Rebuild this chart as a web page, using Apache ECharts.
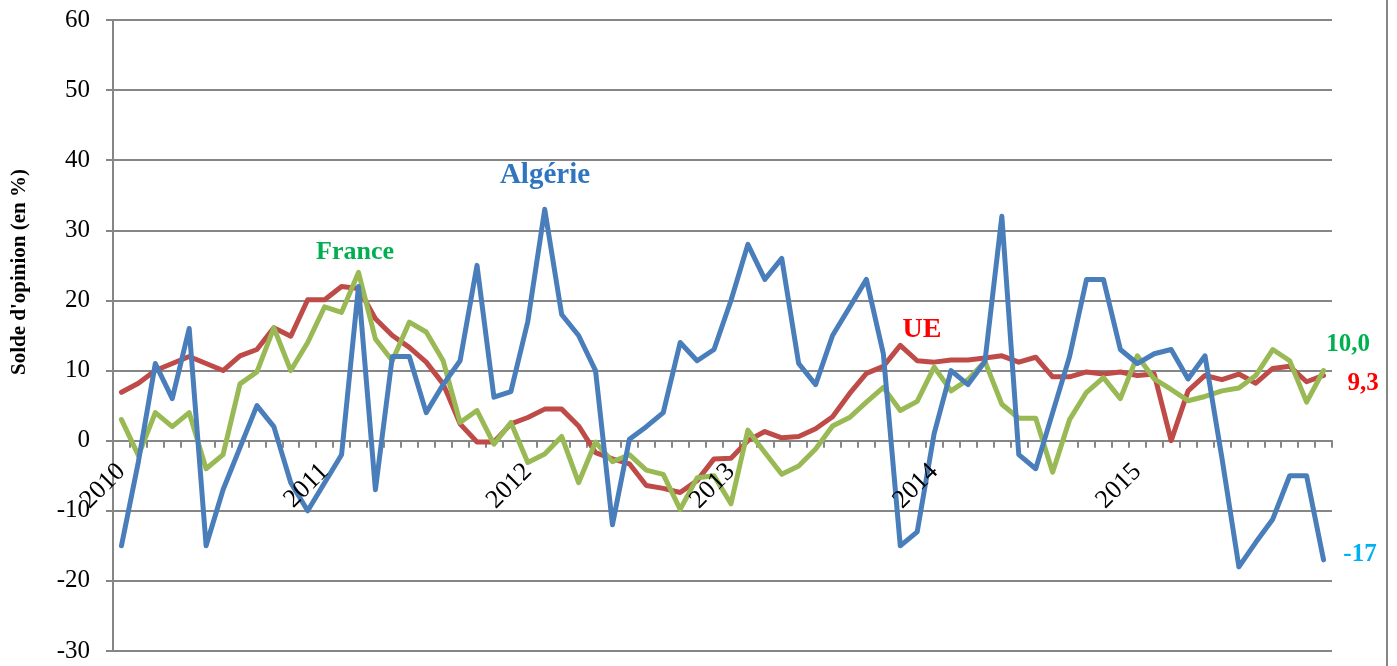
<!DOCTYPE html>
<html>
<head>
<meta charset="utf-8">
<script src="https://cdn.jsdelivr.net/npm/echarts@6/dist/echarts.min.js"></script>
<style>
  html, body { margin: 0; padding: 0; background: #fff; }
  #chart { width: 1397px; height: 666px; }
</style>
</head>
<body>
<div id="chart"></div>
<script>
// Soldes d'opinion mensuels, janv. 2010 - déc. 2015

const years = ['2010', '2011', '2012', '2013', '2014', '2015'];
const monthNums = ['01', '02', '03', '04', '05', '06', '07', '08', '09', '10', '11', '12'];
const months = [];
years.forEach(y => monthNums.forEach(m => months.push(y + '-' + m)));

const yTicks = { min: -30, max: 60, step: 10 };

// Algérie
const algerie = [
  -15, -3, 11, 6, 16, -15, -7, -1, 5, 2, -6, -10,
  -6, -2, 22, -7, 12, 12, 4, 8, 11.4, 25, 6.2, 7,
  17, 33, 18, 15, 10, -12, 0.2, 2, 4, 14, 11.4, 13,
  20, 28, 23, 26, 11, 8, 15, 19, 23, 12.4, -15, -13,
  1, 10, 8, 11.3, 32, -2, -4, 4, 12, 23, 23, 13,
  11, 12.4, 13, 8.8, 12.1, -2.5, -18, -14.5, -11.2, -5, -5, -17
];

// UE
const ue = [
  6.9, 8.2, 10, 11, 12, 11, 10, 12.1, 13, 16.1, 14.9, 20.1,
  20.1, 22, 21.7, 17.4, 15, 13.3, 11.2, 8.1, 2.4, -0.2, -0.2, 2.4,
  3.3, 4.5, 4.5, 2.1, -1.7, -2.6, -3.3, -6.4, -6.8, -7.4, -5.7, -2.6,
  -2.5, 0, 1.3, 0.4, 0.6, 1.7, 3.4, 6.7, 9.6, 10.6, 13.6, 11.4,
  11.2, 11.5, 11.5, 11.8, 12.1, 11.2, 11.9, 9.1, 9.1, 9.8, 9.5, 9.8,
  9.3, 9.5, 0, 7.1, 9.3, 8.7, 9.5, 8.2, 10.3, 10.6, 8.4, 9.3
];

// France
const france = [
  3, -2.1, 4, 2, 4, -4, -2, 8.1, 9.8, 16.1, 10, 14,
  19.1, 18.3, 24, 14.5, 11.4, 16.9, 15.5, 11.4, 2.6, 4.3, -0.5, 2.6,
  -3.1, -1.9, 0.6, -6, -0.2, -3, -2, -4.2, -4.8, -9.8, -5.3, -5,
  -9, 1.5, -1.7, -4.8, -3.6, -1.2, 2.1, 3.3, 5.5, 7.6, 4.3, 5.6,
  10.5, 7.1, 8.7, 11.3, 5.2, 3.2, 3.2, -4.5, 3, 6.9, 9, 6,
  12.1, 8.8, 7.3, 5.7, 6.3, 7.1, 7.5, 9.3, 13, 11.4, 5.5, 10
];

const GRID = '#868686';
const FONT = '"Liberation Serif", "Times New Roman", serif';

// zone de tracé
const PLOT = { left: 113, right: 65, top: 20, bottom: 15 };
const plotH = 666 - PLOT.top - PLOT.bottom;
// décalage de l'axe des abscisses pour le placer sur la valeur 0
const zeroOffset = -plotH * (0 - yTicks.min) / (yTicks.max - yTicks.min);

const chart = echarts.init(document.getElementById('chart'), null, { renderer: 'canvas' });

function lineSeries(name, data, color, z) {
  return {
    name: name, type: 'line', data: data, z: z, xAxisIndex: 0,
    symbol: 'none', smooth: false, animation: false,
    lineStyle: { color: color, width: 5, cap: 'round', join: 'round' }
  };
}

chart.setOption({
  backgroundColor: '#fff',
  animation: false,
  grid: { left: PLOT.left, right: PLOT.right, top: PLOT.top, bottom: PLOT.bottom, containLabel: false, outerBoundsMode: 'none' },
  xAxis: [
    {
      // ligne du zéro et graduations (sous les courbes)
      type: 'category',
      data: months,
      boundaryGap: true,
      offset: zeroOffset,
      axisLine: { onZero: false, lineStyle: { color: GRID, width: 2 } },
      axisTick: { show: true, interval: 0, length: 7, lineStyle: { color: GRID, width: 2 } },
      axisLabel: { show: false },
      splitLine: { show: false }
    },
    {
      // étiquettes des années (au-dessus des courbes)
      type: 'category',
      data: months,
      boundaryGap: true,
      position: 'bottom',
      offset: zeroOffset,
      z: 10,
      axisLine: { show: false, onZero: false },
      axisTick: { show: false },
      axisLabel: {
        interval: 11, rotate: 45, margin: 27,
        fontFamily: FONT, fontSize: 26, color: '#000',
        formatter: v => v.slice(0, 4)
      },
      splitLine: { show: false }
    }
  ],
  yAxis: {
    type: 'value',
    min: yTicks.min, max: yTicks.max, interval: yTicks.step,
    axisLine: { show: true, lineStyle: { color: GRID, width: 2 } },
    axisTick: { show: true, length: 7, lineStyle: { color: GRID, width: 2 } },
    axisLabel: { margin: 23, fontFamily: FONT, fontSize: 25, color: '#000' },
    splitLine: { show: true, lineStyle: { color: GRID, width: 2 } }
  },
  series: [
    lineSeries('UE', ue, '#BE4B48', 2),
    lineSeries('France', france, '#98B954', 3),
    lineSeries('Algérie', algerie, '#4A7EBB', 4)
  ],
  graphic: [
    // bordure droite du cadre
    { type: 'line', shape: { x1: 1387, y1: 0, x2: 1387, y2: 666 }, style: { stroke: GRID, lineWidth: 2 }, silent: true },
    { type: 'text', x: 20, y: 272, rotation: Math.PI / 2,
      style: { text: "Solde d'opinion (en %)", font: 'bold 21px ' + FONT, fill: '#000', align: 'center', verticalAlign: 'middle' } },
    { type: 'text', x: 545, y: 176, style: { text: 'Algérie', font: 'bold 29px ' + FONT, fill: '#2F75C0', align: 'center', verticalAlign: 'middle' } },
    { type: 'text', x: 355, y: 252, style: { text: 'France', font: 'bold 26px ' + FONT, fill: '#00B050', align: 'center', verticalAlign: 'middle' } },
    { type: 'text', x: 922, y: 330, style: { text: 'UE', font: 'bold 28px ' + FONT, fill: '#FF0000', align: 'center', verticalAlign: 'middle' } },
    { type: 'text', x: 1348, y: 345, style: { text: '10,0', font: 'bold 25px ' + FONT, fill: '#00B050', align: 'center', verticalAlign: 'middle' } },
    { type: 'text', x: 1363, y: 384, style: { text: '9,3', font: 'bold 25px ' + FONT, fill: '#FF0000', align: 'center', verticalAlign: 'middle' } },
    { type: 'text', x: 1360, y: 555, style: { text: '-17', font: 'bold 25px ' + FONT, fill: '#00B0F0', align: 'center', verticalAlign: 'middle' } }
  ]
});
</script>
</body>
</html>
